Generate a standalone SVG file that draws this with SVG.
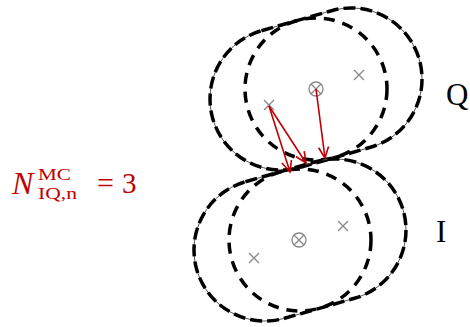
<svg xmlns="http://www.w3.org/2000/svg" width="470" height="327" viewBox="0 0 470 327">
<style>
.thin{fill:none;stroke:#555;stroke-width:1}
.dash{fill:none;stroke:#000;stroke-width:3.5;stroke-dasharray:12 5}
.inner{fill:none;stroke:#000;stroke-width:3.5;stroke-dasharray:11 8}
.mark{fill:none;stroke:#888;stroke-width:1.3}
.arr{fill:none;stroke:#c00000;stroke-width:1.6;marker-end:url(#ah)}
.red{fill:#c00000;font-family:"Liberation Serif","DejaVu Serif",serif}
.lbl{fill:#000;font-family:"Liberation Serif","DejaVu Serif",serif;font-size:31px}
</style>
<defs>
<marker id="ah" markerUnits="userSpaceOnUse" markerWidth="16" markerHeight="14" refX="12" refY="6" orient="auto">
<path d="M1,1 L12,6 L1,11" fill="none" stroke="#c00000" stroke-width="1.6"/>
</marker>
<path id="xm" d="M-5,-5 L5,5 M-5,5 L5,-5"/>
</defs>

<g id="cluster-Q">
<path class="thin" d="M261.5,30.7 L331.5,10.7 A71 71 0 0 1 370.5,147.3 L300.5,167.3 A71 71 0 0 1 261.5,30.7 Z"/>
<path class="dash" d="M261.5,30.7 L331.5,10.7 A71 71 0 0 1 370.5,147.3 L300.5,167.3 A71 71 0 0 1 261.5,30.7 Z"/>
<circle class="inner" cx="316" cy="89" r="71"/>
<use href="#xm" class="mark" x="269" y="105"/>
<use href="#xm" class="mark" x="359" y="75"/>
<circle class="mark" cx="316" cy="89" r="7"/>
<use href="#xm" class="mark" x="316" y="89"/>
<text class="lbl" x="446" y="105">Q</text>
</g>

<g id="cluster-I">
<path class="thin" d="M245.5,181.7 L315.5,161.7 A71 71 0 0 1 354.5,298.3 L284.5,318.3 A71 71 0 0 1 245.5,181.7 Z"/>
<path class="dash" d="M245.5,181.7 L315.5,161.7 A71 71 0 0 1 354.5,298.3 L284.5,318.3 A71 71 0 0 1 245.5,181.7 Z"/>
<circle class="inner" cx="300" cy="240" r="71"/>
<use href="#xm" class="mark" x="254" y="258"/>
<use href="#xm" class="mark" x="343" y="226"/>
<circle class="mark" cx="299" cy="240" r="7"/>
<use href="#xm" class="mark" x="299" y="240"/>
<text class="lbl" x="436" y="242">I</text>
</g>

<g id="connectors">
<line class="arr" x1="269" y1="106" x2="290" y2="172"/>
<line class="arr" x1="269" y1="106" x2="306" y2="163"/>
<line class="arr" x1="316" y1="89" x2="325" y2="158"/>
</g>

<g id="label-N">
<text class="red" x="12" y="194" font-size="32" font-style="italic">N</text>
<text class="red" x="38" y="180" font-size="17" textLength="33" lengthAdjust="spacingAndGlyphs">MC</text>
<text class="red" x="38" y="199" font-size="17" textLength="39" lengthAdjust="spacingAndGlyphs">IQ,n</text>
<text class="red" x="97" y="193" font-size="30">=</text>
<text class="red" x="122" y="193" font-size="29">3</text>
</g>
</svg>
